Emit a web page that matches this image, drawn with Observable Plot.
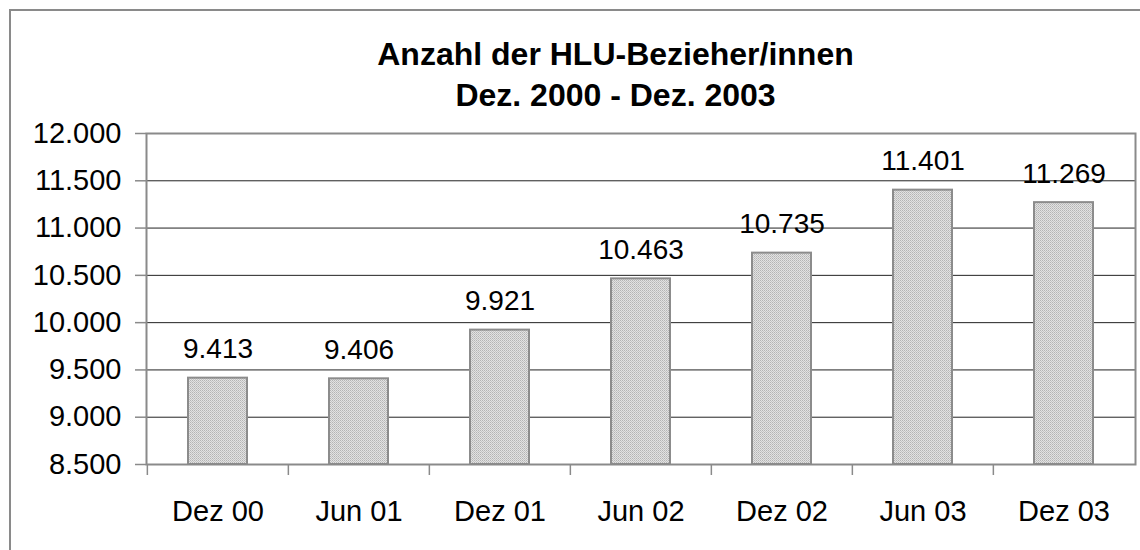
<!DOCTYPE html>
<html>
<head>
<meta charset="utf-8">
<script src="https://cdn.jsdelivr.net/npm/d3@7"></script>
<script src="https://cdn.jsdelivr.net/npm/@observablehq/plot@0.6"></script>
<style>
  html, body { margin: 0; padding: 0; background: #fff; }
  #wrap { position: relative; width: 1140px; height: 550px; overflow: hidden; font-family: "Liberation Sans", Arial, sans-serif; }
  #outer { position: absolute; left: 9px; top: 9px; width: 1200px; height: 600px; border-left: 2px solid #8a8a8a; border-top: 2px solid #8a8a8a; }
  #title { position: absolute; left: 0px; width: 1231px; top: 34px; text-align: center; font-weight: bold; font-size: 32px; line-height: 41px; color: #000; }
  #chart { position: absolute; left: 0; top: 0; }
</style>
</head>
<body>
<div id="wrap">
  <div id="outer"></div>
  <svg width="0" height="0" style="position:absolute">
    <defs>
      <pattern id="hatch" patternUnits="userSpaceOnUse" width="2" height="2">
        <rect width="2" height="2" fill="#e2e2e2"></rect>
        <rect x="0" y="0" width="1" height="1" fill="#b4b4b4"></rect>
        <rect x="1" y="1" width="1" height="1" fill="#c4c4c4"></rect>
      </pattern>
    </defs>
  </svg>
  <div id="chart"></div>
  <div id="title">Anzahl der HLU-Bezieher/innen<br>Dez. 2000 - Dez. 2003</div>
</div>
<script>
const titleLines = ["Anzahl der HLU-Bezieher/innen", "Dez. 2000 - Dez. 2003"];
const categories = ["Dez 00", "Jun 01", "Dez 01", "Jun 02", "Dez 02", "Jun 03", "Dez 03"];
const values = [9413, 9406, 9921, 10463, 10735, 11401, 11269];
const yTicks = [8500, 9000, 9500, 10000, 10500, 11000, 11500, 12000];
const gridTicks = [9000, 9500, 10000, 10500, 11000, 11500];

document.getElementById("title").innerHTML = titleLines.join("<br>");

const de = d3.formatLocale({decimal: ",", thousands: ".", grouping: [3], currency: ["", " €"]});
const fmt = de.format(",d");

const data = categories.map((c, i) => ({cat: c, value: values[i]}));

const W = 1140, H = 550;
const mL = 146, mR = 5, mT = 133, mB = 86;
const step = (W - mL - mR) / categories.length;

const chart = Plot.plot({
  width: W,
  height: H,
  marginLeft: mL,
  marginRight: mR,
  marginTop: mT,
  marginBottom: mB,
  style: {fontFamily: "'Liberation Sans', Arial, sans-serif", fontSize: "28px", color: "#000", background: "transparent"},
  x: {domain: categories, padding: 0},
  y: {domain: [8500, 12000]},
  marks: [
    Plot.ruleY(gridTicks, {stroke: "#222", strokeWidth: 1}),
    Plot.barY(data, {x: "cat", y1: 8500, y2: "value", fill: "url(#hatch)", stroke: "#8c8c8c", strokeWidth: 2, insetLeft: 41, insetRight: 41}),
    Plot.text(data, {x: "cat", y: "value", text: d => fmt(d.value), lineAnchor: "bottom", dy: -20, fontSize: 28, fill: "#000"}),
    Plot.frame({stroke: "#8a8a8a", strokeWidth: 2}),
    Plot.axisY({ticks: yTicks, tickFormat: fmt, tickSize: 11, tickPadding: 14, stroke: "#8a8a8a", strokeWidth: 1.5, fontSize: 29, fill: "#000", label: null}),
    Plot.axisX({tickSize: 11, text: null, dx: -step / 2, stroke: "#8a8a8a", strokeWidth: 1.5, label: null}),
    Plot.axisX({tickSize: 0, tickPadding: 36, fontSize: 29, fill: "#000", label: null})
  ]
});
document.getElementById("chart").appendChild(chart);
</script>
</body>
</html>
